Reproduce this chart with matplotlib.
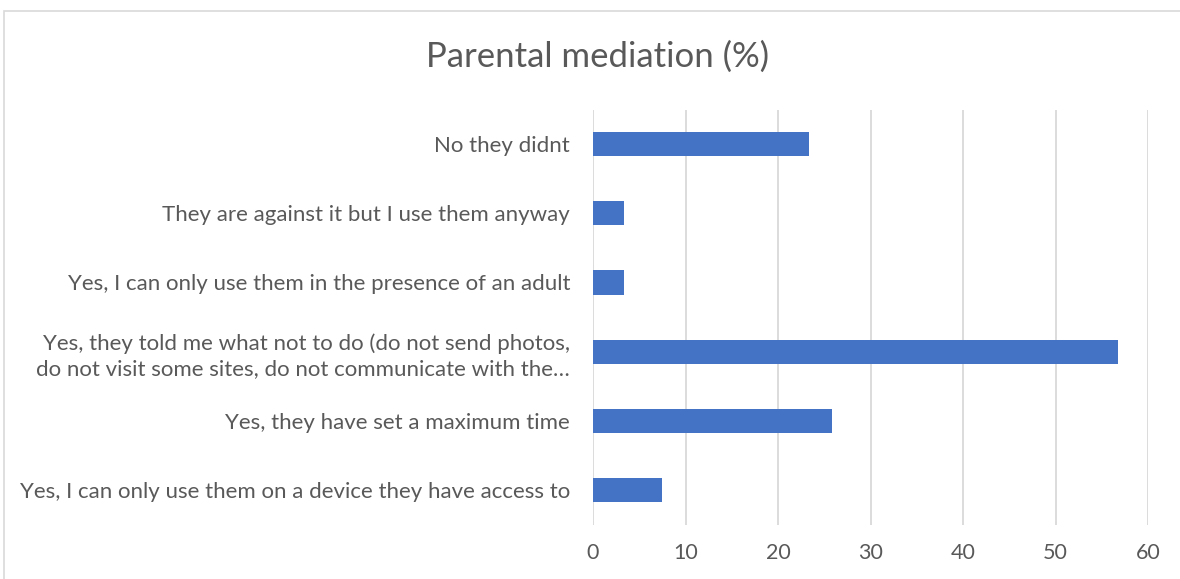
import matplotlib
matplotlib.use("Agg")
import matplotlib.pyplot as plt
from matplotlib.patches import Rectangle

categories = [
    "No they didnt",
    "They are against it but I use them anyway",
    "Yes, I can only use them in the presence of an adult",
    "Yes, they told me what not to do (do not send photos,\ndo not visit some sites, do not communicate with the\u2026",
    "Yes, they have set a maximum time",
    "Yes, I can only use them on a device they have access to",
]
values = [23.4, 3.3, 3.4, 56.8, 25.8, 7.5]
x_ticks = [0, 10, 20, 30, 40, 50, 60]

W, H = 1180, 579
fig = plt.figure(figsize=(W / 100, H / 100), dpi=100)
fig.patch.set_facecolor("white")

text_color = "#595959"
font = "Lato"

# chart frame
fig.add_artist(Rectangle((4 / W, -0.1), 1.2, 1 - 11 / H + 0.1,
                         transform=fig.transFigure, fill=False,
                         edgecolor="#d9d9d9", linewidth=1.2))

left, right = 593 / W, 1148 / W
top, bottom = 1 - 109.5 / H, 1 - 524.6 / H
ax = fig.add_axes([left, bottom, right - left, top - bottom])

ypos = list(range(len(categories)))
ax.barh(ypos, values, height=0.35, color="#4472c4", zorder=3)
ax.set_ylim(len(categories) - 0.5, -0.5)
ax.set_xlim(0, 60)
ax.set_xticks(x_ticks)
ax.set_xticklabels([str(t) for t in x_ticks], fontsize=15.5,
                   color=text_color, family=font)
ax.set_yticks(ypos)
ax.set_yticklabels(categories, fontsize=16.0, color=text_color,
                   family=font, linespacing=1.32)
ax.grid(axis="x", color="#d9d9d9", linewidth=1.3, zorder=0)
for s in ax.spines.values():
    s.set_visible(False)
ax.tick_params(axis="x", length=0, pad=13)
ax.tick_params(axis="y", length=0, pad=16.5)

fig.text(598 / W, 1 - 57 / H, "Parental mediation (%)", ha="center",
         va="center", fontsize=25, color=text_color, family=font)

fig.savefig("out.png", dpi=100, facecolor="white")
